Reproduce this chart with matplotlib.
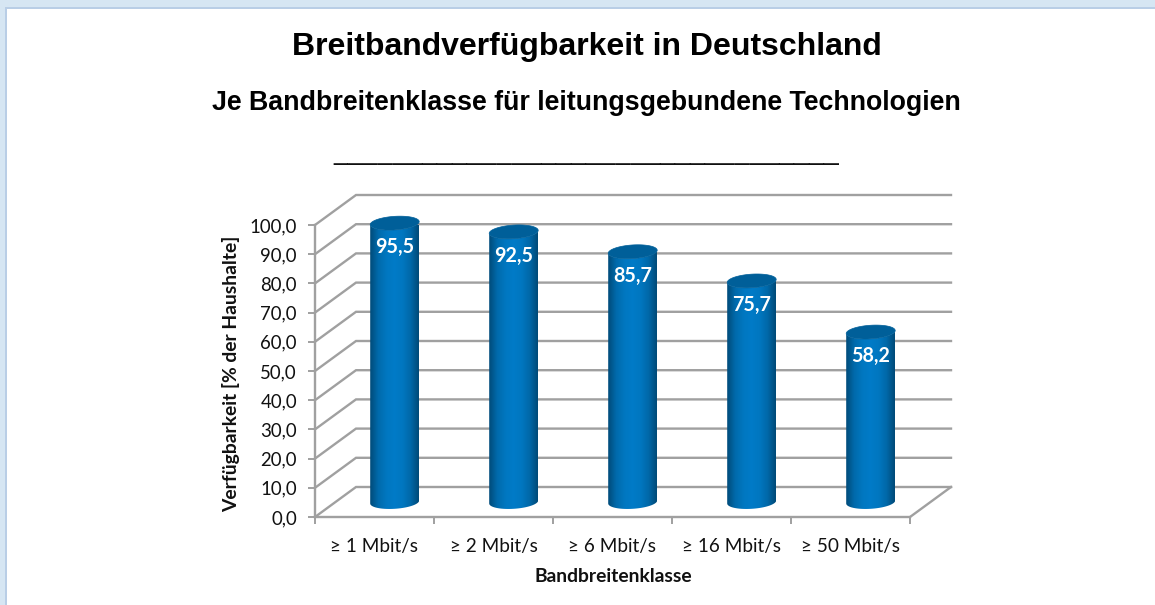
"""
Breitbandverfuegbarkeit chart, Excel style 3D cylinders
"""
import numpy as np
import matplotlib
matplotlib.use('Agg')
import matplotlib.pyplot as plt
from matplotlib.colors import LinearSegmentedColormap
from matplotlib.patches import PathPatch, Polygon, Rectangle
from matplotlib.path import Path

categories = ['≥ 1 Mbit/s', '≥ 2 Mbit/s', '≥ 6 Mbit/s', '≥ 16 Mbit/s', '≥ 50 Mbit/s']
values = [95.5, 92.5, 85.7, 75.7, 58.2]
value_labels = ['95,5', '92,5', '85,7', '75,7', '58,2']
y_ticks = [0, 10, 20, 30, 40, 50, 60, 70, 80, 90, 100]
y_tick_labels = ['0,0', '10,0', '20,0', '30,0', '40,0', '50,0', '60,0', '70,0', '80,0', '90,0', '100,0']

W, H = 1155, 605
GRID = '#A0A0A0'
CHART_FONT = ['Lato', 'DejaVu Sans']
TITLE_FONT = ['Liberation Sans', 'DejaVu Sans']

# front plane of the chart in pixels
LEFT, RIGHT, TOP, BOTTOM = 315, 910, 225, 517
PX_X = (RIGHT - LEFT) / len(categories)
PX_Y = (BOTTOM - TOP) / 100
DX = 41 / PX_X    # depth of the box, in data units
DY = 30 / PX_Y

fig = plt.figure(figsize=(W / 100, H / 100), dpi=100, facecolor='#D6E6F3')

# window frame
bg = fig.add_axes([0, 0, 1, 1])
bg.set_xlim(0, W)
bg.set_ylim(H, 0)
bg.axis('off')
bg.add_patch(Rectangle((5, 7), W, H, fc='#B9CEE6', ec='none'))
bg.add_patch(Rectangle((7, 9), W, H, fc='white', ec='none'))

bg.text(587, 47, 'Breitbandverfügbarkeit in Deutschland', fontsize=23, fontweight='bold',
        family=TITLE_FONT, ha='center', va='center', color='black')
bg.text(586, 103, 'Je Bandbreitenklasse für leitungsgebundene Technologien', fontsize=19.3,
        fontweight='bold', family=TITLE_FONT, ha='center', va='center', color='black')
bg.text(586, 152, '_' * 34, fontsize=19.2, family=TITLE_FONT, ha='center', va='center', color='#111111')

ax = fig.add_axes([LEFT / W, 1 - BOTTOM / H, (RIGHT - LEFT) / W, (BOTTOM - TOP) / H])
ax.set_xlim(0, len(categories))
ax.set_ylim(0, 100)
ax.patch.set_alpha(0)
for side in ['top', 'right']:
    ax.spines[side].set_visible(False)
for side in ['left', 'bottom']:
    ax.spines[side].set_color(GRID)
    ax.spines[side].set_linewidth(1.7)

ax.set_yticks(y_ticks, y_tick_labels)
ax.set_xticks(np.arange(len(categories) + 1), minor=True)
ax.set_xticks(np.arange(len(categories)) + 0.5, categories)
ax.tick_params(axis='x', which='major', length=0, pad=15, labelsize=13.6, labelcolor='#111111')
ax.tick_params(axis='x', which='minor', length=5, width=1.4, color=GRID)
ax.tick_params(axis='y', length=5, width=1.4, color=GRID, pad=8, labelsize=13.4, labelcolor='#111111')
for label in ax.get_xticklabels() + ax.get_yticklabels():
    label.set_family(CHART_FONT)

# walls and floor
n = len(categories)
for v in y_ticks:
    ax.plot([0, DX, n + DX], [v, v + DY, v + DY], color=GRID, lw=1.7, clip_on=False, zorder=1,
            solid_joinstyle='miter')
ax.plot([n, n + DX], [0, DY], color=GRID, lw=1.7, clip_on=False, zorder=1)

# cylinders
cyl_cmap = LinearSegmentedColormap.from_list(
    'cyl', ['#004B7A', '#006AAB', '#0077C0', '#007BC8', '#0077C0', '#0068A8', '#004A78'])
gradient = np.linspace(0, 1, 128).reshape(1, -1)
half_w = 24.5 / PX_X
half_h = 6.8 / PX_Y
tilt = 1.5 / PX_Y
t = np.linspace(0, 2 * np.pi, 73)

for i, (value, text) in enumerate(zip(values, value_labels)):
    cx = i + 0.5 + DX / 2 - 0.3 / PX_X
    y0 = DY / 2
    y1 = value + DY / 2
    low = t[36:73]
    x_low = cx + half_w * np.cos(low)
    y_low = half_h * np.sin(low) + tilt * np.cos(low)
    # outline: bottom half ellipse, right edge, front edge of the top ellipse, left edge
    xs = np.concatenate([x_low, x_low[::-1]])
    ys = np.concatenate([y0 + y_low, y1 + y_low[::-1]])
    verts = np.column_stack([xs, ys])
    body = PathPatch(Path(np.vstack([verts, verts[:1]])), transform=ax.transData, fc='none', ec='none')
    ax.add_patch(body)
    im = ax.imshow(gradient, cmap=cyl_cmap, extent=[cx - half_w, cx + half_w, 0, y1 + half_h + tilt],
                   aspect='auto', zorder=3, clip_on=True)
    im.set_clip_path(body)
    ax.add_patch(Polygon(np.column_stack([cx + half_w * np.cos(t),
                                          y1 + half_h * np.sin(t) + tilt * np.cos(t)]),
                         closed=True, fc='#005F99', ec='#005F99', lw=0.5, zorder=4, clip_on=False))
    ax.text(cx, y1 - 24 / PX_Y, text, color='white', fontsize=14.2, fontweight='bold', family=CHART_FONT,
            ha='center', va='center', zorder=5)

ax.set_xlim(0, n)
ax.set_ylim(0, 100)

bg.text(231, 374, 'Verfügbarkeit [% der Haushalte]', rotation=90, fontsize=13.9, fontweight='bold',
        family=CHART_FONT, ha='center', va='center', color='#111111')
bg.text(613, 576, 'Bandbreitenklasse', fontsize=13.9, fontweight='bold', family=CHART_FONT,
        ha='center', va='center', color='#111111')

fig.savefig('out.png', dpi=100)
